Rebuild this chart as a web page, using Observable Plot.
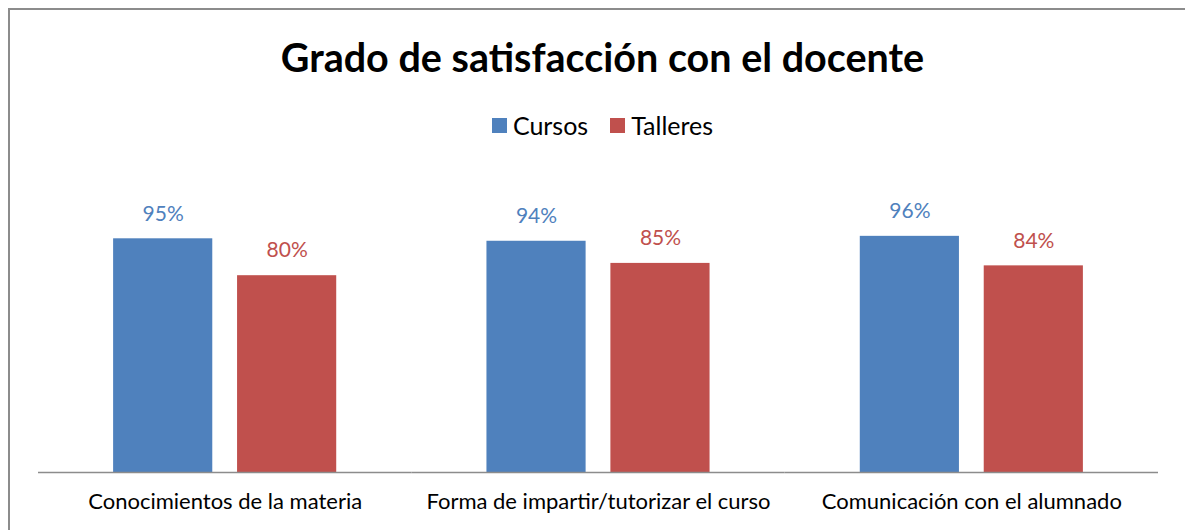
<!DOCTYPE html>
<html>
<head>
<meta charset="utf-8">
<script src="https://cdn.jsdelivr.net/npm/d3@7"></script>
<script src="https://cdn.jsdelivr.net/npm/@observablehq/plot@0.6"></script>
<style>
  html, body { margin: 0; padding: 0; background: #fff; }
  body { width: 1185px; height: 530px; position: relative; overflow: hidden; font-family: Lato, "Open Sans", sans-serif; }
  #frame { position: absolute; left: 8px; top: 8px; width: 1190px; height: 540px; border-left: 2px solid #8c8c8c; border-top: 2px solid #8c8c8c; box-sizing: border-box; }
  #title { position: absolute; left: 10px; width: 1185px; top: 32px; text-align: center; font-weight: 700; font-size: 39.5px; line-height: 50px; color: #000; }
  #legend { position: absolute; left: 10px; width: 1185px; top: 110px; display: flex; justify-content: center; align-items: center; font-size: 25px; line-height: 30px; color: #000; }
  .sw { display: inline-block; width: 15px; height: 15px; margin-right: 6px; }
  .item { display: flex; align-items: center; margin: 0 11px; }
  #chart { position: absolute; left: 0; top: 150px; }
</style>
</head>
<body>
<div id="frame"></div>
<div id="title"></div>
<div id="legend"></div>
<div id="chart"></div>
<script>
const titleText = "Grado de satisfacción con el docente";
const categories = ["Conocimientos de la materia", "Forma de impartir/tutorizar el curso", "Comunicación con el alumnado"];
const seriesNames = ["Cursos", "Talleres"];
const cursos = [0.95, 0.94, 0.96];
const talleres = [0.80, 0.85, 0.84];
const colors = ["#4F81BD", "#C0504D"];

const data = [];
categories.forEach((c, i) => {
  data.push({cat: c, series: seriesNames[0], value: cursos[i]});
  data.push({cat: c, series: seriesNames[1], value: talleres[i]});
});

document.getElementById("title").textContent = titleText;
const legend = document.getElementById("legend");
seriesNames.forEach((s, i) => {
  const it = document.createElement("span");
  it.className = "item";
  const sw = document.createElement("span");
  sw.className = "sw";
  sw.style.background = colors[i];
  it.appendChild(sw);
  it.appendChild(document.createTextNode(s));
  legend.appendChild(it);
});

const fmt = d3.format(".0%");
const chart = Plot.plot({
  width: 1185,
  height: 380,
  marginLeft: 38,
  marginRight: 27,
  marginTop: 76,
  marginBottom: 58,
  style: {fontFamily: "Lato, 'Open Sans', sans-serif", background: "transparent"},
  fx: {domain: categories, padding: 0, round: false, label: null, tickSize: 0, tickPadding: 21, fontSize: 22},
  x: {domain: seriesNames, paddingInner: 0.2, paddingOuter: 0.606, round: false, axis: null},
  y: {domain: [0, 1], axis: null},
  color: {domain: seriesNames, range: colors},
  marks: [
    Plot.barY(data, {fx: "cat", x: "series", y: "value", fill: "series"}),
    Plot.ruleY([0], {stroke: "#8c8c8c", strokeWidth: 1.5}),
    Plot.text(data, {fx: "cat", x: "series", y: "value", text: d => fmt(d.value), fill: "series", dy: -25, fontSize: 21})
  ]
});
chart.querySelectorAll('[aria-label="fx-axis tick label"] text').forEach(t => { t.setAttribute("fill", "#000"); t.style.fontSize = "22px"; });
document.getElementById("chart").appendChild(chart);
</script>
</body>
</html>
